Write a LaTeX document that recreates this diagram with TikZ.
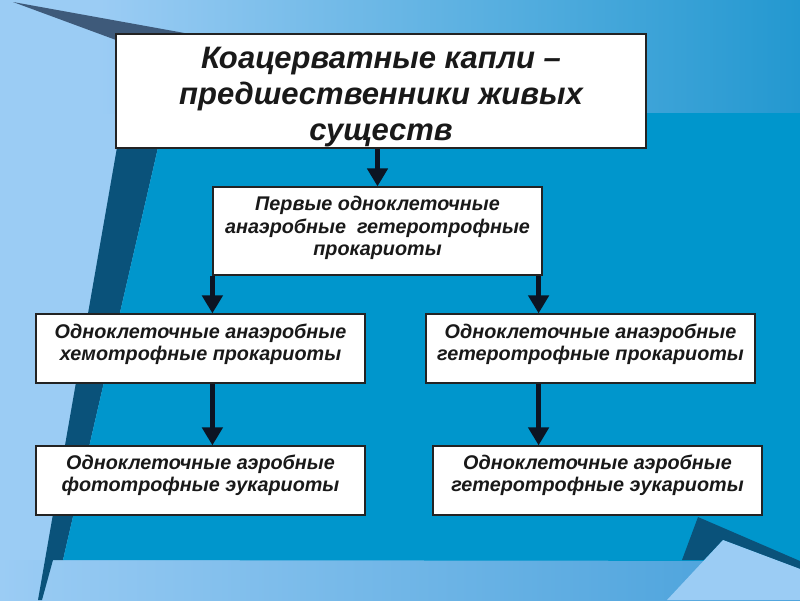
\documentclass[tikz,border=0pt]{standalone}
\usepackage{fontspec}
\setmainfont{Liberation Sans}
\usetikzlibrary{arrows.meta,calc}
\definecolor{lightbg}{RGB}{155,204,244}
\definecolor{topright}{RGB}{35,152,208}
\definecolor{midblue}{RGB}{0,150,204}
\definecolor{darkstrip}{RGB}{10,82,122}
\definecolor{wedge}{RGB}{62,90,122}
\definecolor{botright}{RGB}{70,160,218}
\definecolor{arrowc}{RGB}{12,20,35}
\definecolor{txt}{RGB}{25,25,25}
\tikzset{
  box/.style={draw={rgb,255:red,35;green,35;blue,35}, line width=1.2pt, fill=white, inner sep=0pt},
  lbl/.style={inner sep=0pt, align=center, text=txt},
  bigtxt/.style={lbl, font=\fontsize{31}{36}\selectfont\bfseries\itshape},
  smalltxt/.style={lbl, font=\fontsize{19.8}{22.5}\selectfont\bfseries\itshape},
  arr/.style={line width=4.5pt, draw=arrowc, -{Triangle[width=20pt,length=18pt]}}
}
\begin{document}
\begin{tikzpicture}[x=1pt,y=-1pt]
\useasboundingbox (0,0) rectangle (800,600);
% background
\fill[lightbg] (0,0) rectangle (800,600);
\shade[left color=lightbg, right color=topright] (100,0) rectangle (800,113);
\shade[left color=lightbg, right color=botright] (0,560) rectangle (800,600);
\fill[wedge] (13,2) -- (190,34) -- (116,40) -- cycle;
\fill[darkstrip] (123,113) -- (166,113) -- (63,560) -- (53,560) -- (42,600) -- (38,600) -- cycle;
\fill[midblue] (166,113) -- (800,113) -- (800,561) -- (63,560) -- cycle;
\fill[darkstrip] (698,517) -- (800,561) -- (800,569) -- (723,540) -- (704,560) -- (682,560) -- cycle;
\fill[lightbg] (723,540) -- (800,569) -- (800,600) -- (667,600) -- cycle;
% boxes
\node[box, minimum width=530pt, minimum height=114pt] (b1) at (381,91) {};
\node[box, minimum width=329pt, minimum height=88pt] (b2) at (377.5,231) {};
\node[box, minimum width=329pt, minimum height=69pt] (b3) at (200.5,348.5) {};
\node[box, minimum width=329pt, minimum height=69pt] (b4) at (590.5,348.5) {};
\node[box, minimum width=329pt, minimum height=69pt] (b5) at (200.5,480.5) {};
\node[box, minimum width=329pt, minimum height=69pt] (b6) at (597.5,480.5) {};
% texts
\node[bigtxt] (t1) at ($(b1.center)+(0,6)$) {Коацерватные капли –\\предшественники живых\\существ};
\node[smalltxt] (t2) at ($(b2.center)+(0,-3)$) {Первые одноклеточные\\анаэробные \ гетеротрофные\\прокариоты};
\node[smalltxt] (t3) at ($(b3.center)+(0,-4)$) {Одноклеточные анаэробные\\хемотрофные прокариоты};
\node[smalltxt] (t4) at ($(b4.center)+(0,-4)$) {Одноклеточные анаэробные\\гетеротрофные прокариоты};
\node[smalltxt] (t5) at ($(b5.center)+(0,-5)$) {Одноклеточные аэробные\\фототрофные эукариоты};
\node[smalltxt] (t6) at ($(b6.center)+(0,-5)$) {Одноклеточные аэробные\\гетеротрофные эукариоты};
% arrows
\coordinate (xl) at ([xshift=0pt]b2.south west);
\coordinate (xr) at ([xshift=-4pt]b2.south east);
\draw[arr] (b2.north |- b1.south) -- (b2.north);
\draw[arr] (xl) -- (xl |- b3.north);
\draw[arr] (xr) -- (xr |- b4.north);
\draw[arr] (xl |- b3.south) -- (xl |- b5.north);
\draw[arr] (xr |- b4.south) -- (xr |- b6.north);
\end{tikzpicture}
\end{document}
